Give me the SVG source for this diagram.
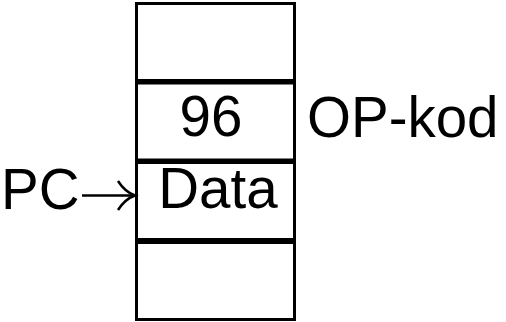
<svg xmlns="http://www.w3.org/2000/svg" width="506" height="322" viewBox="0 0 506 322">
<style>
.cell{fill:#fff;stroke:#000;stroke-width:3}
.t{font-family:"Liberation Sans",Arial,sans-serif;font-size:56.5px;fill:#000}
.arr{fill:none;stroke:#000;stroke-width:2.5;stroke-linecap:butt;stroke-linejoin:miter}
</style>
<rect width="506" height="322" fill="#fff"/>
<g id="cell1"><rect class="cell" x="136.5" y="3.5" width="158" height="77"/></g>
<g id="cell2"><rect class="cell" x="136.5" y="83" width="158" height="77"/><text class="t" x="211" y="136" text-anchor="middle">96</text></g>
<g id="cell3"><rect class="cell" x="136.5" y="162.5" width="158" height="77"/><text class="t" x="218" y="208" text-anchor="middle">Data</text></g>
<g id="cell4"><rect class="cell" x="136.5" y="242.5" width="158" height="77"/></g>
<g id="label-op"><text class="t" x="307" y="137">OP-kod</text></g>
<g id="label-pc"><text class="t" x="1" y="209">PC</text></g>
<g id="connectors">
<path class="arr" d="M82,195.5 H134"/>
<path class="arr" d="M118,181 Q125,192 135,195.5 Q125,199 118,210"/>
</g>
</svg>
